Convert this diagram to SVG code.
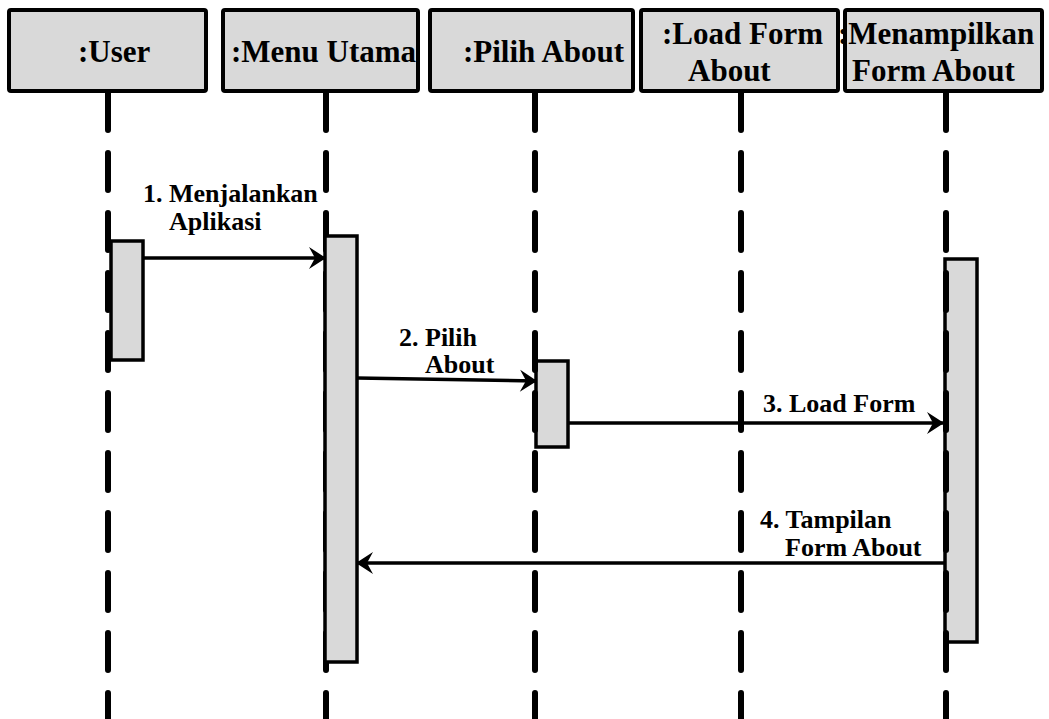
<svg xmlns="http://www.w3.org/2000/svg" width="1049" height="719" viewBox="0 0 1049 719">
<defs>
<style>
.hdr{fill:#d9d9d9;stroke:#000;stroke-width:4}
.act{fill:#d9d9d9;stroke:#000;stroke-width:3.5}
.life{stroke:#000;stroke-width:6;stroke-linecap:round;stroke-dasharray:37 23;fill:none}
.ht{font-family:"Liberation Serif","Times New Roman",serif;font-weight:bold;font-size:31px;fill:#000}
.lt{font-family:"Liberation Serif","Times New Roman",serif;font-weight:bold;font-size:26px;fill:#000}
.msg{stroke:#000;stroke-width:3.5;fill:none}
</style>
<marker id="ah" viewBox="0 0 18 24" refX="17" refY="12" markerWidth="18" markerHeight="24" markerUnits="userSpaceOnUse" orient="auto">
<path d="M18,12 L1,1 L7,12 L1,23 Z" fill="#000"/>
</marker>
</defs>
<rect width="1049" height="719" fill="#fff"/>
<g id="user">
<rect class="hdr" x="9" y="10" width="197" height="81" rx="2"/>
<text class="ht" x="78" y="62">:User</text>
<rect class="act" x="111" y="241" width="32" height="119"/>
<line class="life" x1="108" y1="93" x2="108" y2="719"/>
</g>
<g id="menu-utama">
<rect class="hdr" x="223" y="10" width="195" height="81" rx="2"/>
<text class="ht" x="231" y="62">:Menu Utama</text>
<line class="life" x1="326" y1="93" x2="326" y2="719"/>
<rect class="act" x="325" y="236" width="32" height="426"/>
</g>
<g id="pilih-about">
<rect class="hdr" x="430" y="10" width="203" height="81" rx="2"/>
<text class="ht" x="463" y="62">:Pilih About</text>
<rect class="act" x="536" y="361" width="32" height="86"/>
<line class="life" x1="535" y1="93" x2="535" y2="719"/>
</g>
<g id="load-form-about">
<rect class="hdr" x="641" y="10" width="197" height="81" rx="2"/>
<text class="ht" x="662" y="44">:Load Form</text>
<text class="ht" x="688" y="81">About</text>
<line class="life" x1="741" y1="93" x2="741" y2="719"/>
</g>
<g id="menampilkan-form-about">
<rect class="hdr" x="845" y="10" width="197" height="81" rx="2"/>
<text class="ht" x="838" y="44">:Menampilkan</text>
<text class="ht" x="852" y="81">Form About</text>
<rect class="act" x="945" y="259" width="32" height="383"/>
<line class="life" x1="946" y1="93" x2="946" y2="719"/>
</g>
<g id="connectors">
<line class="msg" x1="143" y1="258" x2="325" y2="258" marker-end="url(#ah)"/>
<line class="msg" x1="357" y1="378" x2="536" y2="381" marker-end="url(#ah)"/>
<line class="msg" x1="568" y1="423" x2="943" y2="423" marker-end="url(#ah)"/>
<line class="msg" x1="945" y1="563" x2="357" y2="563" marker-end="url(#ah)"/>
</g>
<g id="labels">
<text class="lt" x="143" y="202">1. Menjalankan</text>
<text class="lt" x="169" y="230">Aplikasi</text>
<text class="lt" x="399" y="346">2. Pilih</text>
<text class="lt" x="425" y="373">About</text>
<text class="lt" x="763" y="412">3. Load Form</text>
<text class="lt" x="760" y="528">4. Tampilan</text>
<text class="lt" x="785" y="556">Form About</text>
</g>
</svg>
